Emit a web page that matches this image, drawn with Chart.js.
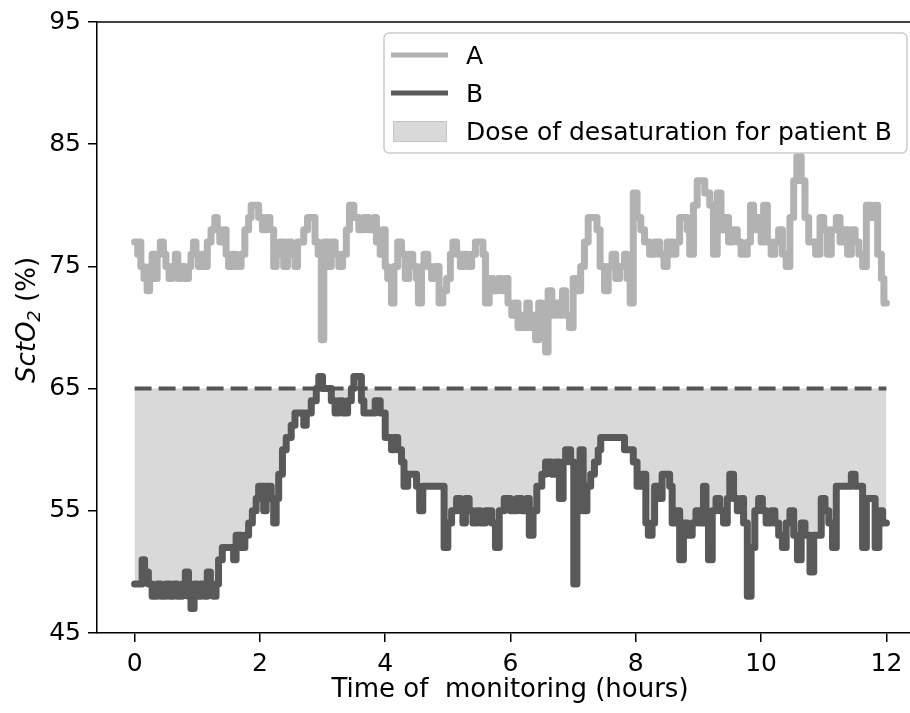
<!DOCTYPE html>
<html>
<head>
<meta charset="utf-8">
<script src="https://cdn.jsdelivr.net/npm/chart.js@4.4.0/dist/chart.umd.min.js"></script>
<style>
  html, body { margin: 0; padding: 0; background: #fff; overflow: hidden; }
  #wrap { width: 910px; height: 713px; overflow: hidden; }
</style>
</head>
<body>
<div id="wrap"><canvas id="chart" width="940" height="713"></canvas></div>
<script>
// patient A - time (hours) and SctO2 (%)
const timeA = [0.00,0.05,0.08,0.10,0.15,0.20,0.24,0.28,0.32,0.36,0.41,0.46,0.50,0.55,0.60,0.65,0.69,0.74,0.80,0.86,
  0.90,0.94,0.98,1.02,1.08,1.12,1.16,1.22,1.28,1.32,1.36,1.42,1.46,1.50,1.56,1.62,1.70,1.76,1.82,1.86,
  1.98,2.04,2.10,2.16,2.22,2.26,2.32,2.38,2.44,2.50,2.56,2.60,2.70,2.76,2.88,2.93,2.98,3.02,3.08,3.14,
  3.20,3.26,3.32,3.38,3.43,3.50,3.58,3.66,3.74,3.82,3.86,3.92,3.96,4.00,4.04,4.10,4.14,4.20,4.26,4.32,
  4.38,4.44,4.50,4.53,4.58,4.62,4.68,4.74,4.80,4.86,4.92,4.98,5.04,5.08,5.14,5.20,5.26,5.32,5.38,5.44,
  5.56,5.60,5.66,5.72,5.80,5.86,5.92,5.96,6.02,6.08,6.12,6.18,6.22,6.26,6.30,6.36,6.40,6.45,6.50,6.56,
  6.60,6.66,6.72,6.78,6.83,6.88,6.94,7.00,7.06,7.12,7.18,7.24,7.38,7.43,7.50,7.56,7.62,7.68,7.74,7.82,
  7.86,7.91,7.96,8.02,8.08,8.14,8.22,8.30,8.38,8.45,8.50,8.58,8.64,8.70,8.82,8.86,8.92,8.98,9.10,9.18,
  9.24,9.30,9.36,9.42,9.48,9.54,9.62,9.68,9.78,9.83,9.88,9.94,10.00,10.04,10.10,10.16,10.22,10.28,10.34,10.40,
  10.46,10.52,10.57,10.64,10.70,10.76,10.82,10.87,10.94,11.00,11.06,11.12,11.20,11.26,11.32,11.38,11.44,11.50,11.56,11.62,
  11.68,11.76,11.82,11.86,11.92,11.96,12.00];
const valA = [77,76,77,75,74,73,75,76,74,76,77,76,75,74,75,76,74,75,74,75,
  76,77,76,75,76,75,77,78,79,78,77,78,76,75,76,75,76,78,79,80,
  79,78,79,78,75,76,77,75,77,76,75,77,78,79,77,76,69,77,75,77,
  76,75,76,78,80,79,78,79,78,79,77,76,78,75,74,72,75,77,76,74,
  76,75,74,72,75,76,75,74,75,72,73,74,76,77,76,75,76,75,76,77,
  76,72,74,73,74,73,74,72,71,72,70,71,70,72,70,71,69,72,70,68,
  73,71,72,71,73,71,70,74,73,75,77,79,78,75,73,75,76,74,75,76,
  74,72,81,79,78,77,76,77,76,75,77,76,77,79,78,76,80,82,81,80,
  76,81,78,79,77,78,77,76,77,80,78,79,77,80,77,76,77,78,76,75,
  79,82,84,82,79,77,77,76,79,78,76,78,79,77,78,76,78,77,76,75,
  80,79,80,76,74,72,72];

// patient B
const timeB = [0.00,0.10,0.12,0.16,0.22,0.28,0.36,0.42,0.50,0.56,0.62,0.68,0.76,0.81,0.86,0.90,0.95,1.00,1.06,1.12,
  1.16,1.21,1.26,1.30,1.34,1.40,1.58,1.62,1.70,1.76,1.82,1.88,1.94,1.98,2.06,2.10,2.18,2.22,2.26,2.30,
  2.36,2.42,2.50,2.56,2.70,2.74,2.82,2.90,2.94,3.00,3.14,3.20,3.26,3.32,3.40,3.46,3.50,3.62,3.66,3.84,
  3.92,4.00,4.10,4.14,4.20,4.26,4.30,4.36,4.50,4.55,4.60,4.94,5.00,5.06,5.14,5.20,5.24,5.28,5.34,5.40,
  5.46,5.52,5.60,5.70,5.76,5.82,5.90,6.00,6.10,6.18,6.26,6.30,6.36,6.42,6.50,6.56,6.66,6.72,6.78,6.84,
  6.88,6.96,7.01,7.06,7.11,7.16,7.22,7.28,7.34,7.40,7.44,7.82,7.96,8.02,8.10,8.16,8.20,8.26,8.30,8.36,
  8.42,8.54,8.58,8.64,8.70,8.76,8.82,8.90,8.96,9.02,9.08,9.12,9.16,9.22,9.28,9.34,9.40,9.46,9.50,9.56,
  9.62,9.68,9.72,9.78,9.84,9.90,9.96,10.02,10.08,10.16,10.22,10.28,10.34,10.40,10.46,10.52,10.58,10.64,10.70,10.78,
  10.84,10.90,10.96,11.02,11.08,11.14,11.20,11.44,11.50,11.56,11.62,11.68,11.76,11.82,11.88,11.94,12.00];
const valB = [49,49,51,50,49,48,49,48,49,48,49,48,49,50,48,47,49,48,49,48,
  50,49,48,49,51,52,51,53,52,53,54,55,56,57,55,57,56,54,56,58,
  60,61,62,63,62,63,64,65,66,65,64,63,64,63,64,65,66,64,63,64,
  63,61,60,61,60,59,57,58,57,55,57,52,54,55,56,55,54,56,55,54,
  55,54,55,54,52,55,56,55,56,55,56,53,55,57,58,59,58,59,56,59,
  60,59,49,55,60,55,57,58,59,60,61,60,59,57,58,54,53,54,57,56,
  58,57,54,55,51,54,53,54,55,54,57,54,51,55,56,55,54,56,58,56,
  55,56,54,48,52,55,56,55,54,55,54,53,52,54,55,53,51,54,53,50,
  53,53,56,55,54,52,57,58,57,57,52,56,56,52,55,54,54];

// desaturation threshold
const threshold = 65;
const thresholdTime = [0, 12];

const yTicks = [45, 55, 65, 75, 85, 95];
const xTicks = [0, 2, 4, 6, 8, 10, 12];

const colorA = '#b2b2b2';
const colorB = '#595959';
const colorFill = '#d9d9d9';
const FONT = '"DejaVu Sans", sans-serif';

const pointsA = timeA.map((t, i) => ({ x: t, y: valA[i] }));
const pointsB = timeB.map((t, i) => ({ x: t, y: valB[i] }));
const pointsT = thresholdTime.map(t => ({ x: t, y: threshold }));

// borda de cima + legenda estilo matplotlib
const extrasPlugin = {
  id: 'extras',
  afterDraw(chart) {
    const ctx = chart.ctx;
    const a = chart.chartArea;
    ctx.save();
    // top spine
    ctx.strokeStyle = '#000';
    ctx.lineWidth = 1.5;
    ctx.beginPath();
    ctx.moveTo(a.left, a.top);
    ctx.lineTo(a.right, a.top);
    ctx.stroke();

    // legend box
    ctx.fillStyle = 'rgba(255,255,255,0.85)';
    ctx.strokeStyle = '#cccccc';
    ctx.lineWidth = 1.5;
    ctx.beginPath();
    ctx.roundRect(384, 33, 523, 120, 5);
    ctx.fill();
    ctx.stroke();

    ctx.lineCap = 'butt';
    ctx.lineWidth = 5;
    ctx.strokeStyle = colorA;
    ctx.beginPath(); ctx.moveTo(391, 55); ctx.lineTo(448, 55); ctx.stroke();
    ctx.strokeStyle = colorB;
    ctx.beginPath(); ctx.moveTo(391, 93); ctx.lineTo(448, 93); ctx.stroke();
    ctx.fillStyle = colorFill;
    ctx.fillRect(393, 121, 53, 20);
    ctx.strokeStyle = '#c4c4c4';
    ctx.lineWidth = 1;
    ctx.strokeRect(393.5, 121.5, 53, 20);

    ctx.fillStyle = '#000';
    ctx.font = '25px ' + FONT;
    ctx.textBaseline = 'middle';
    ctx.textAlign = 'left';
    ctx.fillText('A', 466, 57);
    ctx.fillText('B', 466, 95);
    ctx.fillText('Dose of desaturation for patient B', 466, 133);

    // x title
    ctx.font = '26px ' + FONT;
    ctx.textAlign = 'center';
    ctx.fillText('Time of  monitoring (hours)', 510, 690);

    // y title with italic SctO and subscript 2
    ctx.translate(28, 320);
    ctx.rotate(-Math.PI / 2);
    const f1 = 'italic 26px ' + FONT, f2 = 'italic 18px ' + FONT, f3 = '26px ' + FONT;
    ctx.font = f1; const w1 = ctx.measureText('SctO').width;
    ctx.font = f2; const w2 = ctx.measureText('2').width;
    ctx.font = f3; const w3 = ctx.measureText(' (%)').width;
    let x = -(w1 + w2 + w3) / 2;
    ctx.textAlign = 'left';
    ctx.font = f1; ctx.fillText('SctO', x, 0); x += w1;
    ctx.font = f2; ctx.fillText('2', x, 7); x += w2;
    ctx.font = f3; ctx.fillText(' (%)', x, 0);
    ctx.restore();
  }
};

new Chart(document.getElementById('chart').getContext('2d'), {
  type: 'line',
  data: {
    datasets: [
      {
        label: 'A',
        data: pointsA,
        borderColor: colorA,
        borderWidth: 7,
        borderJoinStyle: 'round',
        borderCapStyle: 'round',
        stepped: true,
        pointRadius: 0,
        fill: false,
        order: 3
      },
      {
        label: 'B',
        data: pointsB,
        borderColor: colorB,
        borderWidth: 7,
        borderJoinStyle: 'round',
        borderCapStyle: 'round',
        stepped: true,
        pointRadius: 0,
        backgroundColor: colorFill,
        fill: { value: threshold },
        order: 2
      },
      {
        label: 'threshold',
        data: pointsT,
        borderColor: '#555555',
        borderWidth: 4,
        borderDash: [17, 7],
        pointRadius: 0,
        fill: false,
        order: 1
      }
    ]
  },
  options: {
    responsive: false,
    animation: false,
    devicePixelRatio: 1,
    layout: { padding: { left: 0, right: 16, top: 20, bottom: 0 } },
    plugins: {
      legend: { display: false },
      tooltip: { enabled: false }
    },
    scales: {
      x: {
        type: 'linear',
        min: -0.6,
        max: 12.6,
        afterFit: s => { s.height = 80; },
        afterBuildTicks: s => { s.ticks = xTicks.map(v => ({ value: v })); },
        ticks: { font: { family: FONT, size: 25 }, color: '#000', padding: 7, maxRotation: 0 },
        grid: { drawOnChartArea: false, drawTicks: true, tickLength: 9, color: '#000', lineWidth: 1.5 },
        border: { color: '#000', width: 1.5 }
      },
      y: {
        min: 45,
        max: 95,
        afterFit: s => { s.width = 97; },
        afterBuildTicks: s => { s.ticks = yTicks.map(v => ({ value: v })); },
        ticks: { font: { family: FONT, size: 25 }, color: '#000', padding: 7 },
        grid: { drawOnChartArea: false, drawTicks: true, tickLength: 9, color: '#000', lineWidth: 1.5 },
        border: { color: '#000', width: 1.5 }
      }
    }
  },
  plugins: [extrasPlugin]
});
</script>
</body>
</html>
